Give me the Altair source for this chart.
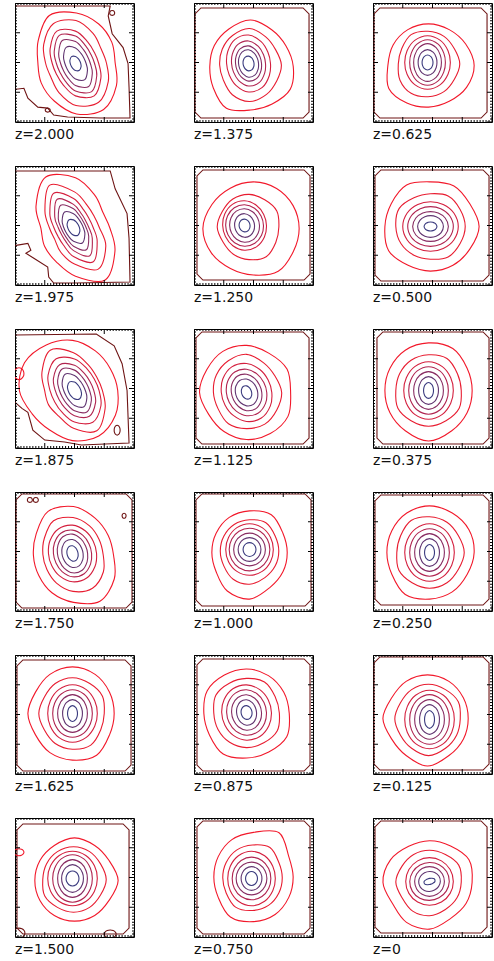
import math
import altair as alt
import pandas as pd

# ---------------- data ----------------
labels = ["z=2.000", "z=1.375", "z=0.625",
          "z=1.975", "z=1.250", "z=0.500",
          "z=1.875", "z=1.125", "z=0.375",
          "z=1.750", "z=1.000", "z=0.250",
          "z=1.625", "z=0.875", "z=0.125",
          "z=1.500", "z=0.750", "z=0"]

# centre of the innermost contours (panel units, 0-120, y downward)
centre_x = [61, 55, 55, 59, 51, 58, 60, 53, 56, 58, 56, 57, 58, 53, 57, 58, 58, 57]
centre_y = [61, 61, 60, 62, 60, 61, 62, 64, 62, 62, 58, 61, 59, 58, 65, 61, 61, 64]
# orientation of major axis (degrees, y downward)
tilt = [65, 80, 90, 62, 80, 0, 62, 70, 90, 75, 90, 90, 90, 80, 90, 90, 90, -15]

# semi-major / semi-minor of contour levels 1..7 (outer -> inner)
semi_major = [
    [55, 46, 38, 33, 27, 19, 8],
    [44, 35, 29, 23, 18, 14, 7.5],
    [42, 33, 27, 23, 19, 13, 7.5],
    [60, 48, 40, 33, 26, 18, 9],
    [47, 33, 25, 21, 17, 12, 6.5],
    [46, 35, 28, 23, 18, 13, 6.5],
    [53, 45, 37, 30, 25, 19, 10],
    [48, 37, 30, 24, 19, 14, 7],
    [48, 36, 29, 24, 19, 14, 8],
    [48, 38, 29, 24, 20, 14.5, 8],
    [42, 31.5, 26, 21.5, 16.5, 12, 7],
    [47, 36, 29, 24, 19, 14, 8],
    [47, 36, 29, 24, 19, 14, 8],
    [45, 35, 28, 23, 18, 13, 7],
    [44, 35, 29.5, 25, 20, 15, 9],
    [41, 33, 27.5, 24, 19, 14, 7.5],
    [45, 33, 27.5, 21.5, 16.5, 12, 7],
    [43, 32, 24, 20, 15, 11, 6],
]
semi_minor = [
    [37, 29, 22, 18, 14, 10, 5],
    [41, 30, 22, 17, 13, 10, 5.5],
    [41, 30, 23, 18, 14, 9.5, 5.5],
    [32, 23, 18, 14, 11.5, 9, 5.5],
    [46, 30, 22, 19, 15, 10, 5.5],
    [45, 33, 25, 20, 15, 11, 4.5],
    [44, 27, 23, 18, 14, 10, 6],
    [44, 33, 25, 20, 15, 11, 5],
    [44, 33, 25, 20, 15, 10, 5],
    [40, 30, 24, 19, 15, 10.5, 5.5],
    [38, 29.5, 24, 20.5, 16, 11.5, 6.5],
    [43, 33, 25, 20, 15, 10, 5],
    [42, 32, 25, 20, 15, 10, 5],
    [43, 33, 25, 20, 15, 10, 5.5],
    [41, 32, 25, 20, 15, 10, 5],
    [40, 31, 25, 20, 15, 11, 6.5],
    [40, 30, 24, 19.5, 15.5, 10.5, 6],
    [42, 32, 24, 19, 15, 10, 3],
]
# shift of the outermost red contour relative to the centre
outer_shift_x = [1, 2, 1, 2, 9, 0, -2, 0, 0, 1, 0, 0, 0, 0, -2, 2, 2, 0]
outer_shift_y = [-1, 3, 3, 1, 3, 0, 0, 0, 0, 2, 3, 0, 0, 1, -1, 2, -1.5, 1]

# outward bumps of level 1 and level 2 at 0,30,...,330 degrees
bump_level1 = [
    [0, 0, 0, 2, 4, 4, 0, -2, 0, 0, 4, 4],
    [2, 4, 0, 0, 6, 2, 0, 0, 0, 3, 0, 0],
    [5, 3, 0, 0, 2, 5, 0, 0, 0, 0, 0, 2],
    [0, 0, 0, 0, 3, 4, 0, 0, 0, 3, 3, 0],
    [0, 0, 3, 0, 0, 3, 5, 2, 0, 0, 0, 0],
    [3, 0, 0, 0, 0, 3, 0, 0, 3, 0, 2, 0],
    [0, 0, 0, 0, 0, 3, 8, 6, 0, 0, 0, 0],
    [0, 2, 0, 0, 0, 0, 3, 0, 0, 0, 0, 3],
    [0, 0, 0, 3, 0, 0, 0, 0, 0, 0, 2, 0],
    [0, 4, 6, 0, 0, 0, 0, 0, 4, 2, 0, 0],
    [0, 0, 0, 5, 4, 0, 0, 0, 0, 0, 3, 0],
    [2, 0, 0, 0, 3, 0, 0, 0, 0, 0, 0, 2],
    [0, 0, 3, 0, 0, 0, 3, 0, 0, 0, 0, 0],
    [0, 3, 0, 0, 3, 0, 0, 2, 0, 0, 0, 0],
    [0, 0, 0, 4, 0, 0, 4, 0, 0, 0, 0, 0],
    [4, 0, 0, 0, 0, 0, 0, 0, 0, 2, 0, 0],
    [0, 0, 0, 0, 3, 0, 0, 0, 0, 0, 8, 0],
    [0, 0, 0, 5, 4, 0, 4, 3, 0, 0, 0, 3],
]
bump_level2 = [
    [0, 0, 0, 2, 2, 0, 0, 0, 0, 2, 2, 0],
    [2, 0, 0, 2, 2, 0, 0, 0, 0, 2, 0, 0],
    [2, 0, 0, 0, 2, 2, 0, 0, 2, 0, 0, 0],
    [0, 2, 0, 0, 2, 0, 0, 0, 2, 0, 0, 0],
    [0, 0, 2, 0, 0, 0, 2, 0, 0, 0, 0, 2],
    [0, 0, 2, 0, 0, 0, 0, 2, 0, 0, 2, 0],
    [0, 0, 2, 0, 0, 2, 0, 0, 2, 0, 0, 0],
    [2, 0, 0, 0, 2, 0, 0, 0, 0, 2, 0, 0],
    [0, 2, 0, 0, 0, 2, 0, 0, 0, 0, 2, 0],
    [0, 2, 2, 0, 0, 0, 0, 0, 2, 0, 0, 0],
    [0, 0, 0, 2, 2, 0, 0, 0, 0, 0, 2, 0],
    [2, 0, 0, 0, 0, 2, 0, 0, 2, 0, 0, 0],
    [0, 0, 2, 0, 0, 0, 2, 0, 0, 0, 0, 2],
    [0, 2, 0, 0, 0, 0, 0, 2, 0, 0, 2, 0],
    [0, 0, 0, 2, 0, 0, 2, 0, 0, 0, 0, 2],
    [2, 0, 0, 0, 0, 2, 0, 0, 0, 0, 0, 0],
    [0, 0, 0, 0, 2, 0, 0, 0, 0, 0, 3, 0],
    [0, 0, 0, 2, 2, 0, 2, 0, 0, 0, 0, 2],
]
# outermost (lowest) contour: insets from the frame (top, right, bottom, left)
box_inset = [
    [0, 0, 0, 0], [5, 4, 4, 1], [5, 5, 4, 1],
    [0, 0, 0, 0], [4, 3, 5, 3], [4, 3, 4, 2],
    [0, 0, 0, 0], [3, 4, 4, 2], [3, 3, 4, 4],
    [2, 2, 3, 1], [2, 2, 5, 2], [3, 3, 6, 2],
    [5, 3, 3, 2], [4, 3, 3, 3], [2, 3, 4, 1],
    [6, 5, 3, 2], [3, 3, 3, 3], [3, 5, 4, 2],
]
# irregular outermost contours of the high-z panels (vertex lists)
box_special = {
    0: [(-2, 3), (1, 3), (96, 3), (94, 13), (98, 31), (109, 45), (114, 61), (115, 85),
        (116, 116), (86, 116), (53, 115), (39, 113), (33, 106), (23, 105), (13, 96),
        (9, 86), (1, 87), (-2, 87)],
    3: [(-2, 5), (1, 5), (96, 5), (101, 23), (113, 48), (115, 73), (116, 117), (60, 118),
        (39, 118), (34, 112), (33, 102), (19, 93), (11, 88), (16, 85), (13, 78), (1, 80),
        (-2, 80)],
    6: [(-2, 6), (0, 6), (82, 5), (100, 17), (108, 35), (113, 62), (115, 115), (67, 117),
        (50, 114), (30, 112), (18, 102), (13, 84), (7, 80), (0, 74), (-2, 74)],
}
# small isolated contour loops: panel, level, x, y, rx, ry
island_panel = [0, 0, 6, 6, 9, 9, 9, 15, 15, 15]
island_level = [0, 0, 0, 1, 0, 0, 0, 1, 0, 0]
island_x = [98, 33, 103, 4, 15, 21, 110, 4, 4, 96]
island_y = [10, 108, 102, 45, 8, 8, 24, 34.5, 116, 117]
island_rx = [2.5, 2.5, 3, 5, 2.5, 2.5, 2, 5, 6, 6]
island_ry = [2.5, 2, 5, 6, 2.5, 2.5, 2.5, 3.5, 5, 4]

level_names = ["L0", "L1", "L2", "L3", "L4", "L5", "L6", "L7"]
level_colors = ["#6e1414", "#f2182a", "#e81c30", "#d41f3e", "#b02450",
                "#882c62", "#603470", "#3a3a7e"]

# frame tick marks (data units): every 3, major every 30
tick_values = [i * 3 for i in range(41)]
tick_major = [i % 10 == 0 for i in range(41)]

angles = [i * 30 for i in range(12)]
SIDE = 120      # data extent of a panel
PANEL_PX = 119  # panel size in pixels
CHAMFER = 6

# ---------------- build the tables ----------------
def ellipse_radius(a, b, th, phi):
    d = math.radians(th - phi)
    return 1.0 / math.sqrt((math.cos(d) / a) ** 2 + (math.sin(d) / b) ** 2)

rows = []
for p in range(len(labels)):
    if p in box_special:
        pts = box_special[p]
    else:
        t, r, b, l = box_inset[p]
        R, B = SIDE - r, SIDE - b
        c = CHAMFER
        pts = [(l + c, t), (R - c, t), (R, t + c), (R, B - c),
               (R - c, B), (l + c, B), (l, B - c), (l, t + c)]
    for k, (x, y) in enumerate(pts):
        rows.append(dict(panel=p, level="L0", kind="box", cid=f"{p}-0", ord=k, x=x, y=y))
    for lev in range(1, 8):
        a = semi_major[p][lev - 1]
        bb = semi_minor[p][lev - 1]
        ox, oy = centre_x[p], centre_y[p]
        if lev == 1:
            ox += outer_shift_x[p]
            oy += outer_shift_y[p]
        elif lev == 2:
            ox += outer_shift_x[p] / 2
            oy += outer_shift_y[p] / 2
        for k, th in enumerate(angles):
            rad = ellipse_radius(a, bb, th, tilt[p])
            if lev == 1:
                rad += bump_level1[p][k]
            elif lev == 2:
                rad += bump_level2[p][k]
            x = ox + rad * math.cos(math.radians(th))
            y = oy + rad * math.sin(math.radians(th))
            rows.append(dict(panel=p, level=level_names[lev], kind="ring",
                             cid=f"{p}-{lev}", ord=k, x=x, y=y))
for i, p in enumerate(island_panel):
    for k, th in enumerate(angles):
        rows.append(dict(panel=p, level=level_names[island_level[i]], kind="ring",
                         cid=f"{p}-i{i}", ord=k,
                         x=island_x[i] + island_rx[i] * math.cos(math.radians(th)),
                         y=island_y[i] + island_ry[i] * math.sin(math.radians(th))))
df = pd.DataFrame(rows)
tick_df = pd.DataFrame({"pos": tick_values, "major": tick_major})

xs = alt.Scale(domain=[0, SIDE], nice=False, zero=False)
ys = alt.Scale(domain=[0, SIDE], nice=False, zero=False, reverse=True)
color = alt.Color("level:N", scale=alt.Scale(domain=level_names, range=level_colors),
                  legend=None)
tick_len = alt.condition("datum.major", alt.value(10), alt.value(4))


def make_panel(p):
    d = df[df.panel == p]
    box = alt.Chart(d[d.kind == "box"]).mark_line(
        interpolate="linear-closed", clip=True, strokeWidth=1.1
    ).encode(
        x=alt.X("x:Q", scale=xs, axis=None),
        y=alt.Y("y:Q", scale=ys, axis=None),
        color=color, detail="cid:N", order="ord:Q",
    )
    lev = alt.Chart(d[d.kind == "ring"]).mark_line(
        interpolate="cardinal-closed", clip=True, strokeWidth=1.1
    ).encode(
        x=alt.X("x:Q", scale=xs, axis=None),
        y=alt.Y("y:Q", scale=ys, axis=None),
        color=color, detail="cid:N", order="ord:Q",
    )
    tb = alt.Chart(tick_df)
    ticks = []
    for yv in (0, PANEL_PX):
        ticks.append(tb.mark_tick(orient="vertical", clip=True, color="#000000",
                                  opacity=1, thickness=1).encode(
            x=alt.X("pos:Q", scale=xs, axis=None), y=alt.value(yv), size=tick_len))
    for xv in (0, PANEL_PX):
        ticks.append(tb.mark_tick(orient="horizontal", clip=True, color="#000000",
                                  opacity=1, thickness=1).encode(
            y=alt.Y("pos:Q", scale=ys, axis=None), x=alt.value(xv), size=tick_len))
    return alt.layer(box, lev, *ticks).properties(
        width=PANEL_PX, height=PANEL_PX,
        title=alt.TitleParams(text=labels[p], orient="bottom", anchor="start",
                              font="DejaVu Sans", fontSize=14, fontWeight="normal",
                              color="#111111", offset=6),
    )


rows_charts = []
for r in range(6):
    rows_charts.append(alt.hconcat(*[make_panel(r * 3 + c) for c in range(3)], spacing=58))

chart = alt.vconcat(*rows_charts, spacing=22).properties(
    padding={"left": 14, "top": 2, "right": 0, "bottom": 0},
    background="white",
).configure_view(stroke="#000000", strokeWidth=1)

chart.save("out.html", embed_options={"renderer": "svg", "actions": False})
